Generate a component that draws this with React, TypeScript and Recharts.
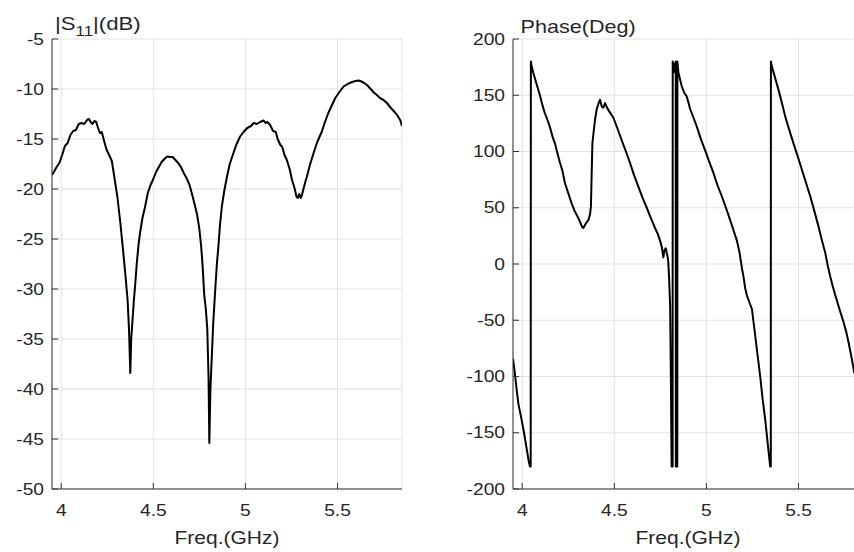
import React from "react";
import { LineChart, Line, XAxis, YAxis, CartesianGrid } from "recharts";

// ---------- data ----------
const freqTicks = [4, 4.5, 5, 5.5];
const s11Ticks = [-50, -45, -40, -35, -30, -25, -20, -15, -10, -5];
const phaseTicks = [-200, -150, -100, -50, 0, 50, 100, 150, 200];

const s11Freq = [
  3.95, 3.96, 3.975, 3.99, 4.005, 4.02, 4.035, 4.05, 4.065, 4.08, 4.095, 4.11, 4.125, 4.14, 4.15, 4.16, 4.17, 4.18, 4.19,
  4.2, 4.21, 4.22, 4.23, 4.245, 4.26, 4.275, 4.29, 4.305, 4.32, 4.335, 4.348, 4.36, 4.368, 4.375, 4.38, 4.386, 4.395,
  4.402, 4.41, 4.42, 4.428, 4.44, 4.455, 4.47, 4.485, 4.5, 4.515, 4.53, 4.545, 4.56, 4.575, 4.59, 4.605, 4.62, 4.635,
  4.65, 4.665, 4.68, 4.695, 4.71, 4.725, 4.738, 4.75, 4.76, 4.768, 4.776, 4.785, 4.793, 4.8, 4.804, 4.81, 4.817, 4.825,
  4.835, 4.845, 4.853, 4.862, 4.872, 4.885, 4.9, 4.915, 4.935, 4.95, 4.971, 4.99, 5.01, 5.03, 5.045, 5.062, 5.08, 5.098,
  5.11, 5.12, 5.134, 5.15, 5.165, 5.175, 5.19, 5.2, 5.212, 5.225, 5.24, 5.253, 5.265, 5.278, 5.285, 5.292, 5.3, 5.307,
  5.315, 5.325, 5.334, 5.35, 5.37, 5.39, 5.415, 5.43, 5.45, 5.47, 5.488, 5.51, 5.533, 5.56, 5.587, 5.6, 5.614, 5.63,
  5.645, 5.66, 5.68, 5.7, 5.714, 5.73, 5.75, 5.768, 5.79, 5.81, 5.823, 5.84, 5.85,
];
const s11Db = [
  -18.6, -18.3, -17.8, -17.4, -16.6, -15.7, -15.4, -14.6, -14.2, -14.1, -13.5, -13.4, -13.5, -13.1, -13.0, -13.3, -13.5,
  -13.2, -13.3, -13.9, -14.4, -14.3, -15.0, -16.0, -16.6, -17.2, -19.0, -20.8, -23.2, -26.0, -28.5, -31.0, -34.0, -38.4,
  -35.0, -33.4, -31.0, -29.5, -27.5, -25.5, -24.4, -23.0, -21.8, -20.4, -19.6, -19.0, -18.3, -17.8, -17.3, -17.0, -16.75,
  -16.8, -16.8, -17.1, -17.4, -17.8, -18.4, -18.9, -19.5, -20.5, -21.6, -22.6, -24.0, -25.8, -27.8, -30.5, -32.0, -34.0,
  -39.0, -45.4, -40.0, -37.0, -33.5, -30.4, -27.5, -25.8, -23.6, -21.75, -20.2, -18.75, -17.5, -16.4, -15.6, -14.75,
  -14.3, -13.9, -13.7, -13.4, -13.5, -13.3, -13.15, -13.4, -13.3, -13.6, -14.2, -14.3, -15.0, -15.6, -15.8, -16.6, -17.1,
  -18.0, -19.1, -19.8, -20.8, -20.9, -20.5, -20.9, -20.6, -20.0, -19.3, -18.75, -17.6, -16.4, -15.3, -14.25, -13.4,
  -12.4, -11.6, -10.9, -10.3, -9.75, -9.45, -9.25, -9.2, -9.15, -9.25, -9.4, -9.6, -10.0, -10.4, -10.6, -10.9, -11.1,
  -11.4, -11.9, -12.3, -12.6, -13.1, -13.7,
];

const phaseFreq = [
  3.95, 3.96, 3.97, 3.98, 3.995, 4.01, 4.025, 4.035, 4.042, 4.046, 4.047, 4.05, 4.06, 4.078, 4.096, 4.11, 4.123, 4.137,
  4.15, 4.165, 4.178, 4.192, 4.205, 4.218, 4.232, 4.25, 4.268, 4.285, 4.304, 4.315, 4.325, 4.332, 4.345, 4.359, 4.368,
  4.373, 4.377, 4.381, 4.388, 4.395, 4.405, 4.415, 4.422, 4.432, 4.44, 4.45, 4.46, 4.475, 4.495, 4.518, 4.54, 4.563,
  4.585, 4.607, 4.63, 4.653, 4.676, 4.698, 4.721, 4.735, 4.748, 4.758, 4.766, 4.772, 4.779, 4.786, 4.792, 4.797, 4.803,
  4.807, 4.811, 4.8165, 4.817, 4.822, 4.826, 4.829, 4.8335, 4.834, 4.842, 4.8425, 4.848, 4.857, 4.866, 4.88, 4.893,
  4.905, 4.911, 4.93, 4.948, 4.97, 4.993, 5.015, 5.038, 5.06, 5.084, 5.106, 5.129, 5.147, 5.165, 5.18, 5.192, 5.201,
  5.211, 5.22, 5.233, 5.247, 5.262, 5.277, 5.292, 5.305, 5.319, 5.333, 5.346, 5.3495, 5.35, 5.353, 5.372, 5.391, 5.41,
  5.428, 5.45, 5.473, 5.495, 5.518, 5.541, 5.564, 5.586, 5.609, 5.627, 5.645, 5.658, 5.672, 5.686, 5.7, 5.722, 5.745,
  5.76, 5.772, 5.79, 5.803,
];
const phaseDeg = [
  -84, -97, -112, -125, -137, -150, -165, -175, -180, -180, 180, 177, 170, 160, 150, 141, 134, 128, 122, 113, 107, 98, 90,
  83, 72, 63, 54, 47, 41, 37, 33, 32, 36, 39, 44, 51, 80, 107, 118, 128, 138, 143, 146, 140, 139, 143, 139, 135, 130, 120,
  110, 100, 90, 79, 69, 59, 50, 41, 32, 27, 21, 15, 6, 12, 14, 9, 4, -11, -37, -100, -180, -180, 180, 170, 178, 172, 180,
  -180, -180, 180, 170, 164, 158, 152, 149, 142, 138, 130, 122, 111, 101, 91, 81, 70, 60, 50, 39, 30, 21, 10, -3, -11,
  -22, -28, -34, -40, -60, -80, -100, -120, -138, -160, -180, -180, 180, 177, 166, 155, 143, 131, 119, 107, 96, 84, 72,
  60, 47, 33, 21, 10, -1, -11, -20, -28, -40, -52, -61, -70, -85, -97,
];

const s11Data = s11Freq.map((f, i) => ({ f, v: s11Db[i] }));
const phaseData = phaseFreq.map((f, i) => ({ f, v: phaseDeg[i] }));

// ---------- style ----------
const FONT = "'Liberation Sans', Arial, Helvetica, sans-serif";
const TXT = "#262626";
const AXIS = "#333333";
const GRID = "#e2e2e2";
const SX = 1.2;
const TICK_FS = 16;
const BOTTOM_MARGIN = 16;
const LEFT_MARGIN = 8;
const TL = 6;

const BottomTick = (props: any) => {
  const { x, y, payload } = props;
  const axisY = y - BOTTOM_MARGIN;
  return (
    <g>
      <line x1={x} x2={x} y1={axisY} y2={axisY - TL} stroke={AXIS} strokeWidth={1} />
      <g transform={`translate(${x},${y}) scale(${SX},1)`}>
        <text x={0} y={0} dy="0.71em" textAnchor="middle" fontSize={TICK_FS} fill={TXT} fontFamily={FONT}>
          {payload.value}
        </text>
      </g>
    </g>
  );
};

const LeftTick = (props: any) => {
  const { x, y, payload } = props;
  const axisX = x + LEFT_MARGIN;
  return (
    <g>
      <line x1={axisX} x2={axisX + TL} y1={y} y2={y} stroke={AXIS} strokeWidth={1} />
      <g transform={`translate(${x},${y}) scale(${SX},1)`}>
        <text x={0} y={0} dy="0.355em" textAnchor="end" fontSize={TICK_FS} fill={TXT} fontFamily={FONT}>
          {payload.value}
        </text>
      </g>
    </g>
  );
};

const TopTick = (props: any) => {
  const { x, y } = props;
  return <line x1={x} x2={x} y1={y} y2={y + TL} stroke={AXIS} strokeWidth={1} />;
};

const RightTick = (props: any) => {
  const { x, y } = props;
  return <line x1={x} x2={x - TL} y1={y} y2={y} stroke={AXIS} strokeWidth={1} />;
};

type PanelProps = {
  data: { f: number; v: number }[];
  yDomain: [number, number];
  yTicks: number[];
  width: number;
  margin: { top: number; right: number; bottom: number; left: number };
  yAxisWidth: number;
};

const Panel = ({ data, yDomain, yTicks, width, margin, yAxisWidth }: PanelProps) => (
  <LineChart width={width} height={552} data={data} margin={margin}>
    <CartesianGrid stroke={GRID} strokeWidth={1} />
    <XAxis
      dataKey="f"
      type="number"
      domain={[3.95, 5.85]}
      ticks={freqTicks}
      allowDataOverflow
      height={63}
      tickSize={0}
      tickMargin={BOTTOM_MARGIN}
      tickLine={false}
      axisLine={{ stroke: AXIS, strokeWidth: 1 }}
      tick={<BottomTick />}
      interval={0}
    />
    <XAxis
      xAxisId="top"
      orientation="top"
      dataKey="f"
      type="number"
      domain={[3.95, 5.85]}
      ticks={freqTicks}
      allowDataOverflow
      height={0}
      tickSize={0}
      tickMargin={0}
      tickLine={false}
      axisLine={{ stroke: AXIS, strokeWidth: 1 }}
      tick={<TopTick />}
      interval={0}
    />
    <YAxis
      type="number"
      domain={yDomain}
      ticks={yTicks}
      allowDataOverflow
      width={yAxisWidth}
      tickSize={0}
      tickMargin={LEFT_MARGIN}
      tickLine={false}
      axisLine={{ stroke: AXIS, strokeWidth: 1 }}
      tick={<LeftTick />}
      interval={0}
    />
    <YAxis
      yAxisId="right"
      orientation="right"
      type="number"
      domain={yDomain}
      ticks={yTicks}
      allowDataOverflow
      width={0}
      tickSize={0}
      tickMargin={0}
      tickLine={false}
      axisLine={{ stroke: AXIS, strokeWidth: 1 }}
      tick={<RightTick />}
      interval={0}
    />
    <Line
      xAxisId="top"
      yAxisId="right"
      dataKey="v"
      stroke="none"
      dot={false}
      activeDot={false}
      isAnimationActive={false}
    />
    <Line
      type="linear"
      dataKey="v"
      stroke="#000000"
      strokeWidth={2}
      dot={false}
      activeDot={false}
      isAnimationActive={false}
      strokeLinejoin="round"
    />
  </LineChart>
);

export default function App() {
  return (
    <div
      style={{
        position: "fixed",
        left: 0,
        top: 0,
        width: 854,
        height: 552,
        overflow: "hidden",
        background: "#ffffff",
      }}
    >
      <div style={{ position: "absolute", left: 0, top: 0 }}>
        <Panel
          data={s11Data}
          yDomain={[-50, -5]}
          yTicks={s11Ticks}
          width={430}
          margin={{ top: 39, right: 28, bottom: 0, left: 2 }}
          yAxisWidth={50}
        />
      </div>
      <div style={{ position: "absolute", left: 440, top: 0 }}>
        <Panel
          data={phaseData}
          yDomain={[-200, 200]}
          yTicks={phaseTicks}
          width={440}
          margin={{ top: 39, right: 17, bottom: 0, left: 13 }}
          yAxisWidth={60}
        />
      </div>
      <svg
        width={854}
        height={552}
        style={{ position: "absolute", left: 0, top: 0, pointerEvents: "none" }}
      >
        <g transform={`translate(55,29.5) scale(${SX},1)`}>
          <text x={0} y={0} fontSize={18.5} fill={TXT} fontFamily={FONT}>
            <tspan>|S</tspan>
            <tspan fontSize={14} dy={6.5}>11</tspan>
            <tspan dy={-6.5}>|(dB)</tspan>
          </text>
        </g>
        <g transform={`translate(520.5,33) scale(${SX},1)`}>
          <text x={0} y={0} fontSize={18} fill={TXT} fontFamily={FONT}>
            Phase(Deg)
          </text>
        </g>
        <g transform={`translate(227,544) scale(${SX},1)`}>
          <text x={0} y={0} textAnchor="middle" fontSize={17.5} fill={TXT} fontFamily={FONT}>
            Freq.(GHz)
          </text>
        </g>
        <g transform={`translate(688,544) scale(${SX},1)`}>
          <text x={0} y={0} textAnchor="middle" fontSize={17.5} fill={TXT} fontFamily={FONT}>
            Freq.(GHz)
          </text>
        </g>
      </svg>
    </div>
  );
}
